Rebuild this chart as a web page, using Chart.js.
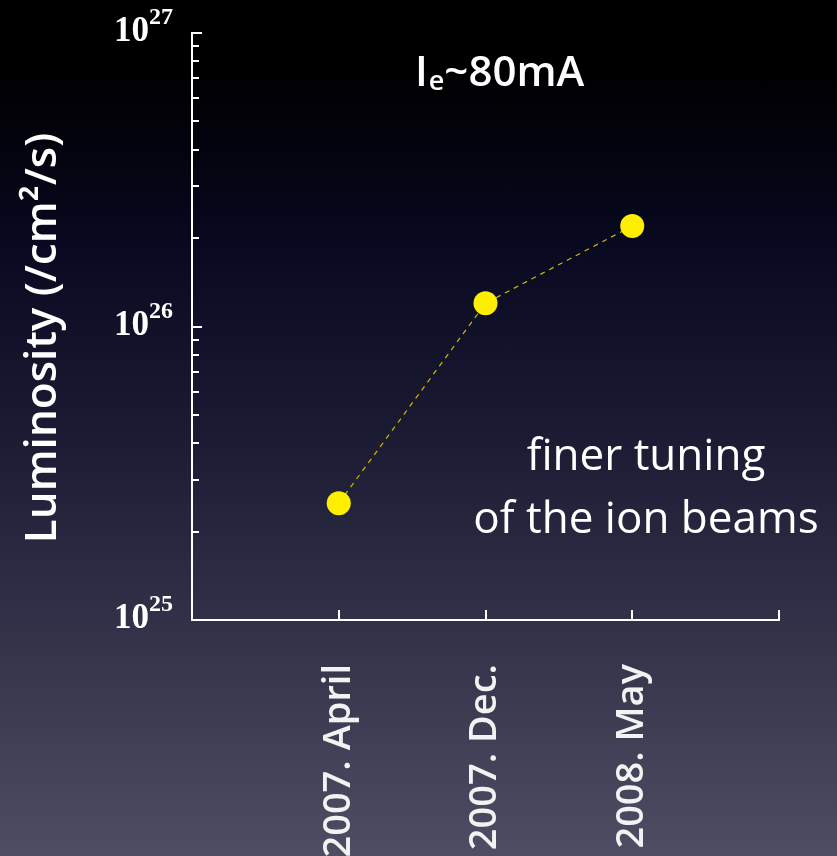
<!DOCTYPE html>
<html>
<head>
<meta charset="utf-8">
<script src="https://cdn.jsdelivr.net/npm/chart.js@4/dist/chart.umd.min.js"></script>
<style>
    html, body { margin: 0; padding: 0; }
    body {
        width: 837px; height: 856px; overflow: hidden;
        background: linear-gradient(to bottom, #000000 0%, #000000 8%, #080820 28%, #1a1a33 50%, #33334a 75%, #4d4d63 100%);
    }
    canvas { display: block; }
</style>
</head>
<body>
<canvas id="lumiChart" width="837" height="856"></canvas>
<script>
// datos
const categories = ['2007. April', '2007. Dec.', '2008. May'];
const luminosity = [2.5e25, 1.2e26, 2.2e26];
const xPositions = [1, 2, 3];
const xTickPositions = [1, 2, 3, 4];
const yMin = 1e25;
const yMax = 1e27;
const yTitle = 'Luminosity (/cm²/s)';

const SANS = '"Open Sans", "DejaVu Sans", sans-serif';
const isDecade = (v) => Math.abs(Math.log10(v) - Math.round(Math.log10(v))) < 1e-6;

// ejes con ticks hacia dentro, etiquetas 10^n y anotaciones
const decorPlugin = {
    id: 'decor',
    afterDraw(chart) {
        const ctx = chart.ctx;
        const area = chart.chartArea;
        const xs = chart.scales.x;
        const ys = chart.scales.y;
        ctx.save();
        ctx.strokeStyle = '#ffffff';
        ctx.lineWidth = 2;
        ctx.fillStyle = '#ffffff';

        ys.ticks.forEach(t => {
            const py = Math.round(ys.getPixelForValue(t.value));
            const major = isDecade(t.value);
            ctx.beginPath();
            ctx.moveTo(area.left, py);
            ctx.lineTo(area.left + (major ? 10 : 7), py);
            ctx.stroke();
            if (major) {
                const exp = String(Math.round(Math.log10(t.value)));
                ctx.font = 'bold 24px "Liberation Serif", serif';
                const ew = ctx.measureText(exp).width;
                ctx.textAlign = 'left';
                ctx.textBaseline = 'alphabetic';
                ctx.fillText(exp, 173 - ew, py - 9);
                ctx.font = 'bold 35px "Liberation Serif", serif';
                ctx.textAlign = 'right';
                ctx.fillText('10', 173 - ew, py + 8);
            }
        });

        xs.ticks.forEach(t => {
            if (t.value <= 0) return;
            const px = Math.round(xs.getPixelForValue(t.value));
            ctx.beginPath();
            ctx.moveTo(px, area.bottom);
            ctx.lineTo(px, area.bottom - 10);
            ctx.stroke();
        });

        // título del eje Y
        ctx.save();
        ctx.translate(43, 338);
        ctx.rotate(-Math.PI / 2);
        ctx.font = '600 44px ' + SANS;
        ctx.textAlign = 'center';
        ctx.textBaseline = 'middle';
        ctx.fillText(yTitle, 0, 0);
        ctx.restore();

        // Ie~80mA
        ctx.textAlign = 'left';
        ctx.textBaseline = 'alphabetic';
        ctx.font = '600 42px ' + SANS;
        let cx = 415;
        ctx.fillText('I', cx, 86);
        cx += ctx.measureText('I').width + 1;
        ctx.font = '600 27px ' + SANS;
        ctx.fillText('e', cx, 90);
        cx += ctx.measureText('e').width;
        ctx.font = '600 42px ' + SANS;
        ctx.fillText('~80mA', cx, 86);

        ctx.font = '400 44px ' + SANS;
        ctx.textAlign = 'center';
        ctx.fillText('finer tuning', 646, 470);
        ctx.fillText('of the ion beams', 646, 533);
        ctx.restore();
    }
};

const ctx = document.getElementById('lumiChart');
new Chart(ctx, {
    type: 'line',
    data: {
        datasets: [{
            data: xPositions.map((x, i) => ({ x: x, y: luminosity[i] })),
            borderColor: '#cdbd00',
            borderWidth: 1.2,
            borderDash: [5, 5],
            backgroundColor: '#ffee00',
            pointBackgroundColor: '#ffee00',
            pointBorderWidth: 0,
            pointRadius: 12,
            tension: 0
        }]
    },
    options: {
        responsive: false,
        animation: false,
        layout: { padding: { top: 33, right: 58, left: 0, bottom: 0 } },
        plugins: {
            legend: { display: false },
            tooltip: { enabled: false }
        },
        scales: {
            x: {
                type: 'linear',
                min: 0,
                max: 4,
                afterBuildTicks: (scale) => { scale.ticks = xTickPositions.map(v => ({ value: v })); },
                afterFit: (scale) => {
                    scale.height = 236;
                    scale.paddingLeft = 0;
                    scale.paddingRight = 0;
                },
                grid: { display: false, drawTicks: false },
                border: { display: true, color: '#ffffff', width: 2 },
                ticks: {
                    autoSkip: false,
                    minRotation: 90,
                    maxRotation: 90,
                    padding: 44,
                    color: '#f2f2f2',
                    font: { family: SANS, size: 38, weight: '600' },
                    callback: (v) => categories[xPositions.indexOf(v)] || ''
                }
            },
            y: {
                type: 'logarithmic',
                min: yMin,
                max: yMax,
                afterBuildTicks: (scale) => {
                    const ticks = [];
                    for (let e = Math.log10(yMin); e < Math.log10(yMax); e++) {
                        for (let m = 1; m <= 9; m++) ticks.push({ value: m * Math.pow(10, e) });
                    }
                    ticks.push({ value: yMax });
                    scale.ticks = ticks;
                },
                afterFit: (scale) => { scale.width = 192; },
                grid: { display: false, drawTicks: false },
                border: { display: true, color: '#ffffff', width: 2 },
                ticks: { display: false },
                title: { display: false }
            }
        }
    },
    plugins: [decorPlugin]
});
</script>
</body>
</html>
